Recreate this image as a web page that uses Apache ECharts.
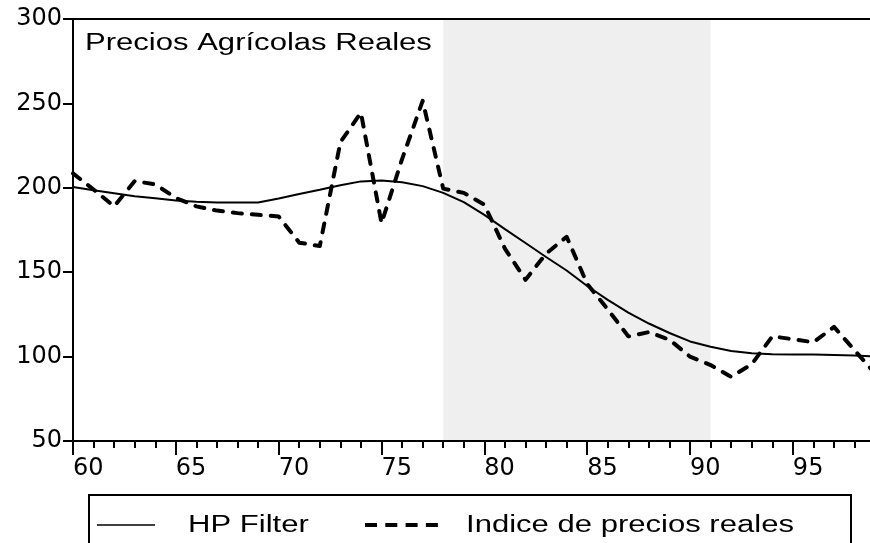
<!DOCTYPE html>
<html>
<head>
<meta charset="utf-8">
<script src="https://cdn.jsdelivr.net/npm/echarts@6/dist/echarts.min.js"></script>
<style>
  html, body { margin: 0; padding: 0; background: #fff; }
  #chart { width: 870px; height: 543px; }
</style>
</head>
<body>
<div id="chart"></div>
<script>
// ---- Data ----
const years = [60,61,62,63,64,65,66,67,68,69,70,71,72,73,74,75,76,77,78,79,80,81,82,83,84,85,86,87,88,89,90,91,92,93,94,95,96,97,98,99];
const indiceReal = [208.5,199,189,204,202,194,189,186.5,185,184,183,167.5,165.5,227,244.5,179,217,251.5,199.5,197,190,164,145.5,161,171,143,128,112,114.5,110,100,95,88,95.5,112,110.3,108.5,117.6,103.8,90];
const hpFilter = [200.5,198.5,196.8,195,193.8,192.5,191.7,191.3,191.3,191.3,193.7,196.3,198.8,201.5,203.8,204.3,203.3,201,197,191.5,184,175.5,167.3,159,151,141.8,133.6,126,119.6,114,109,105.8,103.3,102,101.4,101.3,101.2,101,100.7,100];
const shadedYears = [78, 91];
const xMajorTicks = [60,65,70,75,80,85,90,95];
const xMinorTicks = [60,61,62,63,64,65,66,67,68,69,70,71,72,73,74,75,76,77,78,79,80,81,82,83,84,85,86,87,88,89,90,91,92,93,94,95,96,97,98];
const yTicks = [50,100,150,200,250,300];
const titleText = 'Precios Agrícolas Reales';
const seriesNames = ['HP Filter', 'Indice de precios reales'];

const X_MIN = 60, X_MAX = 98.75;
const pair = (arr) => years.map((y, i) => [y, arr[i]]);

const chart = echarts.init(document.getElementById('chart'));
const TXT = 1.35;
const labelFont = { color: '#000', fontFamily: 'DejaVu Sans', fontSize: 24 };

chart.setOption({
  animation: false,
  backgroundColor: '#fff',
  grid: { left: 73, right: 0, top: 19, bottom: 102 },
  xAxis: [
    {
      type: 'value', min: X_MIN, max: X_MAX, position: 'bottom', z: 10,
      axisLine: { show: true, onZero: false, lineStyle: { color: '#000', width: 2 } },
      axisTick: { show: true, customValues: xMajorTicks, length: 14, lineStyle: { color: '#000', width: 2 } },
      axisLabel: { show: true, customValues: xMajorTicks, align: 'left', margin: 16, ...labelFont },
      splitLine: { show: false }
    },
    {
      type: 'value', min: X_MIN, max: X_MAX, position: 'bottom', z: 10,
      axisLine: { show: false, onZero: false },
      axisTick: { show: true, customValues: xMinorTicks, length: 7, lineStyle: { color: '#000', width: 2 } },
      axisLabel: { show: false },
      splitLine: { show: false }
    },
    {
      type: 'value', min: X_MIN, max: X_MAX, position: 'top', z: 10,
      axisLine: { show: true, onZero: false, lineStyle: { color: '#000', width: 2 } },
      axisTick: { show: false }, axisLabel: { show: false }, splitLine: { show: false }
    }
  ],
  yAxis: {
    type: 'value', min: yTicks[0], max: yTicks[yTicks.length - 1], interval: 50, z: 10,
    axisLine: { show: true, onZero: false, lineStyle: { color: '#000', width: 2 } },
    axisTick: { show: true, length: 10, lineStyle: { color: '#000', width: 2 } },
    axisLabel: { show: true, margin: 11, ...labelFont },
    splitLine: { show: false }
  },
  series: [
    {
      name: seriesNames[1], type: 'line', data: pair(indiceReal), showSymbol: false, symbol: 'none',
      clip: true, z: 3,
      lineStyle: { color: '#000', width: 4, type: [9, 10], cap: 'round', join: 'round' },
      markArea: {
        silent: true,
        itemStyle: { color: '#efefef' },
        data: [[{ xAxis: shadedYears[0] }, { xAxis: shadedYears[1] }]]
      }
    },
    {
      name: seriesNames[0], type: 'line', data: pair(hpFilter), showSymbol: false, symbol: 'none',
      clip: true, z: 4,
      lineStyle: { color: '#000', width: 2 }
    }
  ],
  graphic: [
    { type: 'text', x: 85, y: 44, scaleX: TXT, z: 20,
      style: { text: titleText, fill: '#000', font: '23px "Liberation Sans", Arial, sans-serif', align: 'left', verticalAlign: 'middle' } },
    { type: 'rect', shape: { x: 89, y: 495, width: 762, height: 70 }, z: 20,
      style: { fill: 'none', stroke: '#000', lineWidth: 2 } },
    { type: 'line', shape: { x1: 97, y1: 525, x2: 155, y2: 525 }, z: 20,
      style: { stroke: '#000', lineWidth: 1.5 } },
    { type: 'line', shape: { x1: 365, y1: 525, x2: 438, y2: 525 }, z: 20,
      style: { stroke: '#000', lineWidth: 4, lineDash: [12, 8.3] } },
    { type: 'text', x: 188, y: 526, scaleX: TXT, z: 20,
      style: { text: seriesNames[0], fill: '#000', font: '23px "Liberation Sans", Arial, sans-serif', align: 'left', verticalAlign: 'middle' } },
    { type: 'text', x: 466, y: 526, scaleX: TXT, z: 20,
      style: { text: seriesNames[1], fill: '#000', font: '23px "Liberation Sans", Arial, sans-serif', align: 'left', verticalAlign: 'middle' } }
  ]
});
</script>
</body>
</html>
